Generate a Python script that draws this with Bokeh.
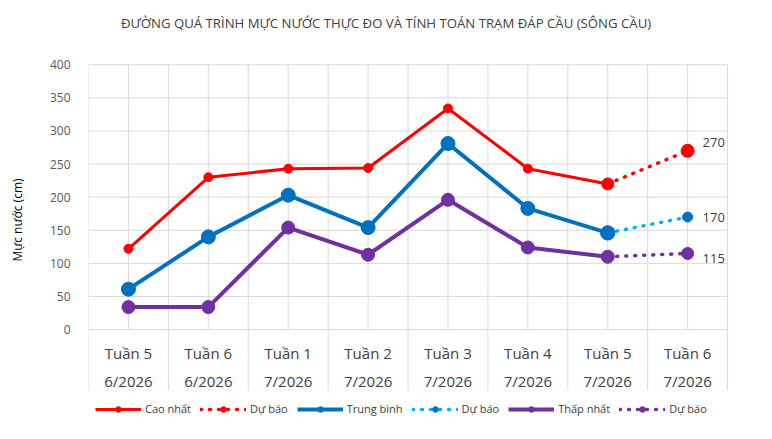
from bokeh.plotting import figure
from bokeh.models import Range1d, FixedTicker, Legend, LegendItem
from bokeh.core.properties import value
from bokeh.embed import file_html
from bokeh.resources import INLINE

# water level at Dap Cau station (cm)
title = "ĐƯỜNG QUÁ TRÌNH MỰC NƯỚC THỰC ĐO VÀ TÍNH TOÁN TRẠM ĐÁP CẦU (SÔNG CẦU)"
weeks = ["Tuần 5", "Tuần 6", "Tuần 1", "Tuần 2", "Tuần 3", "Tuần 4", "Tuần 5", "Tuần 6"]
months = ["6/2026", "6/2026", "7/2026", "7/2026", "7/2026", "7/2026", "7/2026", "7/2026"]
high = [122, 230, 243, 244, 334, 243, 220]
mean = [61, 140, 203, 154, 281, 183, 146]
low = [34, 34, 154, 113, 196, 124, 110]
high_fc = 270
mean_fc = 170
low_fc = 115
y_ticks = [0, 50, 100, 150, 200, 250, 300, 350, 400]

FONT = "Open Sans"
RED = "#FF0000"
BLUE = "#0070C0"
LBLUE = "#00B0F0"
PURPLE = "#7030A0"
GRID = "#D9D9D9"

n = len(weeks)
xs = [i + 0.5 for i in range(n)]
x_obs = xs[:len(high)]
x_fc = xs[len(high) - 1:]
y_top = y_ticks[-1]
y_box = -92  # bottom of the category boxes

# frame covers the whole height; plot area is 0..400, with room above for the
# title, below for the category boxes and legend, and right for value labels
p = figure(width=772, height=439, x_range=Range1d(0, n + 0.5), y_range=Range1d(-166, 497),
           output_backend="svg", toolbar_location=None,
           min_border_left=88, min_border_right=5, min_border_top=0, min_border_bottom=0)
p.outline_line_color = None
p.background_fill_color = "white"
p.border_fill_color = "white"

p.text(x=[3.725], y=[463], text=[title], text_align="center", text_baseline="middle",
       text_font=value(FONT), text_font_size="13.2px", text_color="#404040")

# grid
p.xgrid.visible = False
p.ygrid.visible = False
p.xaxis.visible = False
p.segment(x0=[0] * len(y_ticks), y0=y_ticks, x1=[n] * len(y_ticks), y1=y_ticks,
          line_color=GRID, line_width=1)
half = [i * 0.5 for i in range(2 * n + 1)]
p.segment(x0=half, y0=[0] * len(half), x1=half, y1=[y_top] * len(half),
          line_color=GRID, line_width=1)
bounds = list(range(n + 1))
p.segment(x0=bounds, y0=[y_box] * len(bounds), x1=bounds, y1=[0] * len(bounds),
          line_color=GRID, line_width=1)

# y axis
p.yaxis.ticker = FixedTicker(ticks=y_ticks)
p.yaxis.bounds = (0, y_top)
p.yaxis.axis_line_color = None
p.yaxis.major_tick_line_color = None
p.yaxis.minor_tick_line_color = None
p.yaxis.major_label_text_font = FONT
p.yaxis.major_label_text_font_size = "12px"
p.yaxis.major_label_text_color = "#595959"
p.yaxis.major_label_standoff = 12
p.yaxis.axis_label = "Mực nước (cm)"
p.yaxis.axis_label_text_font = FONT
p.yaxis.axis_label_text_font_size = "12px"
p.yaxis.axis_label_text_font_style = "normal"
p.yaxis.axis_label_text_color = "#000000"
p.yaxis.axis_label_standoff = 21

# category labels
p.text(x=xs, y=[-35] * n, text=weeks, text_align="center", text_baseline="middle",
       text_font=value(FONT), text_font_size="15px", text_color="#404040")
p.text(x=xs, y=[-78] * n, text=months, text_align="center", text_baseline="middle",
       text_font=value(FONT), text_font_size="15px", text_color="#404040")

# observed
r_hl = p.line(x_obs, high, line_color=RED, line_width=3)
r_hp = p.scatter(x_obs, high, size=9, color=RED)
r_ml = p.line(x_obs, mean, line_color=BLUE, line_width=4)
r_mp = p.scatter(x_obs, mean, size=14, color=BLUE)
r_ll = p.line(x_obs, low, line_color=PURPLE, line_width=4)
r_lp = p.scatter(x_obs, low, size=13, color=PURPLE)

# forecast
dash = "1 8"
f_hl = p.line(x_fc, [high[-1], high_fc], line_color=RED, line_width=3.5, line_dash=dash, line_cap="round")
f_hp = p.scatter(x_fc[1:], [high_fc], size=13, color=RED)
f_ml = p.line(x_fc, [mean[-1], mean_fc], line_color=LBLUE, line_width=3.5, line_dash=dash, line_cap="round")
f_mp = p.scatter(x_fc[1:], [mean_fc], size=10, color=BLUE)
f_ll = p.line(x_fc, [low[-1], low_fc], line_color=PURPLE, line_width=3.5, line_dash=dash, line_cap="round")
f_lp = p.scatter(x_fc[1:], [low_fc], size=12, color=PURPLE)

# redraw observed end markers on top
p.scatter(x_obs[-1:], high[-1:], size=12, color=RED)
p.scatter(x_obs[-1:], mean[-1:], size=14, color=BLUE)

# forecast value labels
lbl = dict(text_font=value(FONT), text_font_size="13px", text_color="#404040",
           text_align="left", text_baseline="middle", x_offset=15)
p.text(x=x_fc[1:], y=[high_fc], text=[str(high_fc)], y_offset=-8, **lbl)
p.text(x=x_fc[1:], y=[mean_fc], text=[str(mean_fc)], y_offset=0, **lbl)
p.text(x=x_fc[1:], y=[low_fc], text=[str(low_fc)], y_offset=5, **lbl)

legend = Legend(items=[
    LegendItem(label="Cao nhất", renderers=[r_hl, r_hp]),
    LegendItem(label="Dự báo", renderers=[f_hl, f_hp]),
    LegendItem(label="Trung bình", renderers=[r_ml, r_mp]),
    LegendItem(label="Dự báo", renderers=[f_ml, f_mp]),
    LegendItem(label="Thấp nhất", renderers=[r_ll, r_lp]),
    LegendItem(label="Dự báo", renderers=[f_ll, f_lp]),
], orientation="horizontal", location=(7, 23))
legend.label_text_font = FONT
legend.label_text_font_size = "11px"
legend.label_text_color = "#404040"
legend.glyph_width = 46
legend.glyph_height = 14
legend.label_standoff = 4
legend.spacing = 9
legend.padding = 2
legend.margin = 0
legend.border_line_color = None
legend.background_fill_alpha = 0
p.add_layout(legend)

open("out.html", "w").write(file_html(p, INLINE))
